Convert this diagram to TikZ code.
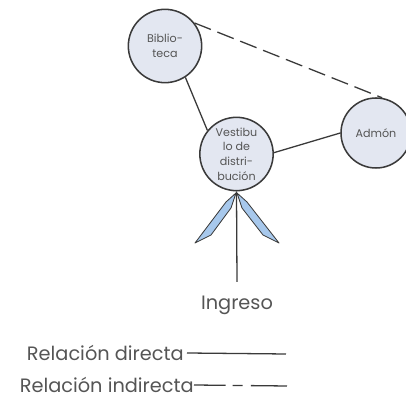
\documentclass[tikz,border=0pt]{standalone}
\usepackage{fontspec}
\setmainfont{Poppins}
\definecolor{ringgray}{HTML}{3A3A3A}
\definecolor{roomfill}{HTML}{E3E7F1}
\definecolor{wingblue}{HTML}{A7C8EC}
\definecolor{inkgray}{HTML}{555555}
\usetikzlibrary{positioning,calc}

\begin{document}
\begin{tikzpicture}[x=0.03cm,y=-0.03cm,
    room/.style={circle,draw=ringgray,line width=1.3pt,fill=roomfill,
      minimum size=2.2cm,inner sep=0pt,align=center,text=inkgray,
      font=\fontsize{9.5}{12.5}\selectfont},
    link/.style={ringgray,line width=1.1pt},
    farlink/.style={link,dash pattern=on 15pt off 6pt},
    label/.style={text=inkgray,font=\fontsize{16.5}{18}\selectfont,inner sep=0pt}]
  \useasboundingbox (0,0) rectangle (406,401);
  % rooms
  \node[room] (bib) at (165,46) {Biblio-\\teca};
  \node[room] (vest) at (236.5,154) {Vestibu\\lo de\\distri-\\bución};
  \node[room,minimum size=2.1cm] (adm) at (376,133) {Admón};
  % relations
  \draw[farlink] (bib.38) -- (adm.80);
  \draw[link] (bib.-57) -- (vest.141);
  \draw[link] (vest.2) -- (adm.180);
  % entrance
  \coordinate (door) at (237,282);
  \draw[link] (vest.south) -- (door);
  \filldraw[fill=wingblue,draw=ringgray,line width=0.7pt,line join=round]
    (236,193) -- (226,202) -- (195,243) -- (211,235) -- (231,208) -- cycle;
  \filldraw[fill=wingblue,draw=ringgray,line width=0.7pt,line join=round]
    (237,193) -- (247,202) -- (279,243) -- (263,235) -- (242,208) -- cycle;
  \node[label] (ingreso) at (237,305) {Ingreso};
  % legend
  \node[label,anchor=east] (ldir) at (184,353) {Relación directa};
  \coordinate (ldirend) at (286,354);
  \draw[link] (ldir.east) ++(3,0) -- (ldirend);
  \node[label,anchor=east] (lind) at (194,385) {Relación indirecta};
  \coordinate (lindend) at (287,386);
  \draw[link,dash pattern=on 27pt off 6pt on 8.5pt off 7pt on 40pt] (lind.east) -- (lindend);
\end{tikzpicture}
\end{document}
